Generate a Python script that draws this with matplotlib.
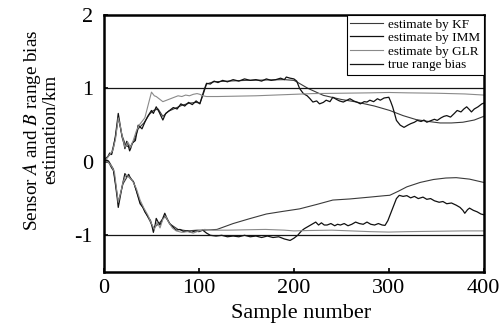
import matplotlib
matplotlib.use("Agg")
from matplotlib import pyplot as plt

# ---- data (sample number, bias estimate in km) ----
imm_a_x = [0, 2, 4, 6, 8, 10, 12, 14, 15, 17, 19, 21, 22, 24, 25, 27, 28, 30, 33, 36,
           40, 43, 46, 50, 52, 55, 58, 62, 65, 69, 73, 77, 81, 85, 89, 93, 97, 101, 104, 106,
           108, 112, 116, 120, 125, 130, 136, 142, 148, 154, 160, 166, 171, 176, 181, 186, 190, 192, 196, 200,
           203, 206, 210, 214, 217, 220, 224, 227, 231, 234, 238, 241, 245, 248, 252, 256, 259, 263, 267, 270,
           274, 277, 280, 284, 288, 291, 295, 300, 302, 304, 306, 308, 312, 316, 320, 323, 327, 330, 334, 337,
           340, 344, 348, 351, 355, 358, 361, 365, 369, 372, 376, 379, 382, 385, 387, 390, 394, 398, 400]
imm_a_y = [0.0, 0.05, 0.07, 0.12, 0.10, 0.20, 0.35, 0.55, 0.66, 0.50, 0.34, 0.25, 0.18, 0.28, 0.25, 0.15, 0.18, 0.26, 0.29, 0.50,
           0.45, 0.54, 0.62, 0.70, 0.66, 0.75, 0.68, 0.57, 0.66, 0.70, 0.74, 0.72, 0.79, 0.76, 0.81, 0.78, 0.83, 0.79, 0.92, 1.00,
           1.07, 1.06, 1.10, 1.08, 1.11, 1.09, 1.12, 1.10, 1.13, 1.11, 1.12, 1.10, 1.13, 1.11, 1.12, 1.14, 1.12, 1.155, 1.14, 1.13,
           1.10, 1.00, 0.93, 0.90, 0.86, 0.815, 0.83, 0.79, 0.81, 0.84, 0.82, 0.88, 0.85, 0.83, 0.815, 0.84, 0.86, 0.83, 0.81, 0.79,
           0.82, 0.815, 0.84, 0.82, 0.86, 0.84, 0.87, 0.88, 0.82, 0.75, 0.66, 0.565, 0.50, 0.47, 0.50, 0.52, 0.54, 0.565, 0.55, 0.57,
           0.54, 0.56, 0.58, 0.565, 0.60, 0.62, 0.63, 0.61, 0.66, 0.70, 0.68, 0.72, 0.75, 0.71, 0.68, 0.72, 0.75, 0.79, 0.80]

glr_a_x = [0, 3, 6, 9, 12, 14, 15, 17, 19, 22, 25, 28, 31, 34, 37, 40, 43, 46, 50, 53,
           55, 58, 62, 66, 70, 74, 78, 82, 86, 90, 94, 98, 101, 104, 108, 120, 140, 160, 180, 200,
           220, 250, 280, 300, 320, 350, 380, 400]
glr_a_y = [0.0, 0.05, 0.10, 0.15, 0.30, 0.50, 0.60, 0.50, 0.36, 0.20, 0.27, 0.20, 0.30, 0.42, 0.50, 0.55, 0.60, 0.75, 0.95, 0.90,
           0.89, 0.86, 0.82, 0.84, 0.86, 0.88, 0.90, 0.89, 0.91, 0.90, 0.92, 0.93, 0.92, 0.90, 0.89, 0.89, 0.895, 0.90, 0.91, 0.92,
           0.93, 0.935, 0.94, 0.945, 0.94, 0.935, 0.925, 0.91]

kf_a_x = [0, 4, 8, 12, 15, 19, 23, 27, 31, 36, 42, 48, 52, 57, 62, 68, 75, 82, 90, 97,
          101, 104, 108, 115, 130, 150, 170, 190, 200, 203, 215, 231, 250, 266, 285, 301, 315, 329, 342, 354,
          366, 378, 390, 400]
kf_a_y = [0.0, 0.07, 0.12, 0.33, 0.60, 0.36, 0.22, 0.20, 0.27, 0.45, 0.53, 0.65, 0.70, 0.72, 0.62, 0.69, 0.73, 0.77, 0.80, 0.81,
          0.80, 0.90, 1.06, 1.09, 1.10, 1.11, 1.115, 1.12, 1.11, 1.09, 1.00, 0.906, 0.85, 0.815, 0.76, 0.70, 0.63, 0.575, 0.55, 0.53,
          0.53, 0.54, 0.57, 0.62]

imm_b_x = [0, 2, 4, 6, 8, 10, 12, 14, 15, 17, 19, 21, 22, 24, 26, 27, 29, 31, 34, 36,
           38, 41, 43, 46, 49, 51, 52, 54, 55, 57, 59, 61, 64, 66, 69, 72, 76, 80, 84, 88,
           92, 96, 100, 104, 108, 112, 118, 124, 130, 136, 142, 148, 154, 160, 166, 172, 178, 184, 190, 196,
           200, 204, 208, 211, 215, 219, 223, 226, 229, 232, 235, 239, 243, 246, 249, 253, 257, 261, 265, 269,
           273, 277, 281, 285, 289, 293, 296, 299, 302, 305, 308, 311, 315, 319, 323, 327, 331, 336, 340, 344,
           348, 353, 357, 361, 366, 371, 375, 378, 380, 383, 385, 389, 393, 397, 400]
imm_b_y = [0.0, 0.02, 0.02, -0.03, -0.08, -0.12, -0.30, -0.50, -0.62, -0.48, -0.34, -0.22, -0.16, -0.20, -0.17, -0.20, -0.24, -0.27, -0.39, -0.48,
           -0.57, -0.62, -0.68, -0.74, -0.80, -0.90, -0.96, -0.85, -0.77, -0.82, -0.86, -0.80, -0.70, -0.76, -0.84, -0.88, -0.93, -0.92, -0.95, -0.94,
           -0.96, -0.94, -0.95, -0.93, -0.97, -1.00, -1.01, -1.00, -1.02, -1.01, -1.02, -1.00, -1.02, -1.01, -1.03, -1.01, -1.03, -1.02, -1.05, -1.07,
           -1.04, -1.00, -0.94, -0.91, -0.88, -0.85, -0.82, -0.86, -0.83, -0.86, -0.86, -0.84, -0.87, -0.85, -0.86, -0.84, -0.87, -0.85, -0.82, -0.84,
           -0.85, -0.82, -0.85, -0.86, -0.84, -0.86, -0.865, -0.80, -0.70, -0.60, -0.50, -0.456, -0.47, -0.46, -0.49, -0.47, -0.50, -0.48, -0.51, -0.50,
           -0.53, -0.55, -0.54, -0.57, -0.56, -0.59, -0.62, -0.66, -0.70, -0.65, -0.63, -0.66, -0.68, -0.71, -0.72]

glr_b_x = [0, 4, 8, 11, 13, 15, 17, 20, 23, 26, 30, 34, 38, 42, 46, 50, 53, 56, 59, 62,
           65, 68, 72, 76, 82, 88, 94, 100, 106, 115, 130, 150, 170, 190, 200, 215, 240, 260, 280, 300,
           320, 350, 380, 400]
glr_b_y = [0.0, 0.0, -0.06, -0.14, -0.35, -0.55, -0.45, -0.28, -0.18, -0.20, -0.26, -0.36, -0.52, -0.63, -0.72, -0.84, -0.92, -0.82, -0.90, -0.78,
           -0.74, -0.82, -0.90, -0.94, -0.96, -0.95, -0.97, -0.94, -0.92, -0.93, -0.93, -0.925, -0.92, -0.93, -0.94, -0.935, -0.93, -0.94, -0.95, -0.956,
           -0.95, -0.945, -0.94, -0.94]

kf_b_x = [0, 5, 10, 15, 20, 25, 31, 38, 45, 52, 58, 64, 70, 78, 88, 98, 105, 119, 136, 153,
          171, 188, 206, 224, 241, 259, 280, 296, 301, 310, 319, 333, 347, 360, 371, 385, 400]
kf_b_y = [0.0, 0.01, -0.10, -0.55, -0.30, -0.19, -0.27, -0.55, -0.72, -0.90, -0.84, -0.74, -0.85, -0.92, -0.94, -0.93, -0.93, -0.92, -0.84, -0.775,
          -0.71, -0.675, -0.64, -0.58, -0.52, -0.505, -0.48, -0.46, -0.455, -0.40, -0.34, -0.28, -0.24, -0.22, -0.215, -0.235, -0.28]

true_x = [0, 400]
true_a = [1, 1]
true_b = [-1, -1]

plt.rcParams['font.family'] = ['Liberation Serif', 'DejaVu Serif']
plt.rcParams['mathtext.fontset'] = 'stix'

fig = plt.figure(figsize=(5.01, 3.28), dpi=100)
ax = fig.add_axes([0.2076, 0.1707, 0.758, 0.7835])

kf_col, imm_col, glr_col, true_col = '#3a3a3a', '#111111', '#8a8a8a', '#151515'

ax.plot(kf_a_x, kf_a_y, color=kf_col, lw=0.8, label='estimate by KF')
ax.plot(imm_a_x, imm_a_y, color=imm_col, lw=0.9, label='estimate by IMM')
ax.plot(glr_a_x, glr_a_y, color=glr_col, lw=0.8, label='estimate by GLR')
ax.plot(true_x, true_a, color=true_col, lw=0.9, label='true range bias')
ax.plot(kf_b_x, kf_b_y, color=kf_col, lw=0.8)
ax.plot(imm_b_x, imm_b_y, color=imm_col, lw=0.9)
ax.plot(glr_b_x, glr_b_y, color=glr_col, lw=0.8)
ax.plot(true_x, true_b, color=true_col, lw=0.9)

ax.set_xlim(0, 400)
ax.set_ylim(-1.5, 2)
ax.set_xticks([0, 100, 200, 300, 400])
ax.set_yticks([-1, 0, 1, 2])
ax.set_yticklabels(['-1', '0', '1', '2'])
ax.tick_params(direction='in', length=3, width=1.2, labelsize=16)
ax.tick_params(axis='x', pad=5)
ax.tick_params(axis='y', pad=8)
for s in ax.spines.values():
    s.set_linewidth(1.8)

ax.set_xlabel('Sample number', fontsize=16)
ax.xaxis.set_label_coords(0.518, -0.125)
ax.set_ylabel('Sensor $A$ and $B$ range bias\nestimation/km', fontsize=13.8,
              linespacing=0.95)
ax.yaxis.set_label_coords(-0.118, 0.553)

leg = ax.legend(loc='upper right', fontsize=9.5, frameon=True, fancybox=False,
                edgecolor='black', framealpha=1, borderaxespad=0, borderpad=0.25,
                labelspacing=0.1, handlelength=2.5, handletextpad=0.4)
leg.get_frame().set_linewidth(0.8)

plt.savefig('out.png', dpi=100)
